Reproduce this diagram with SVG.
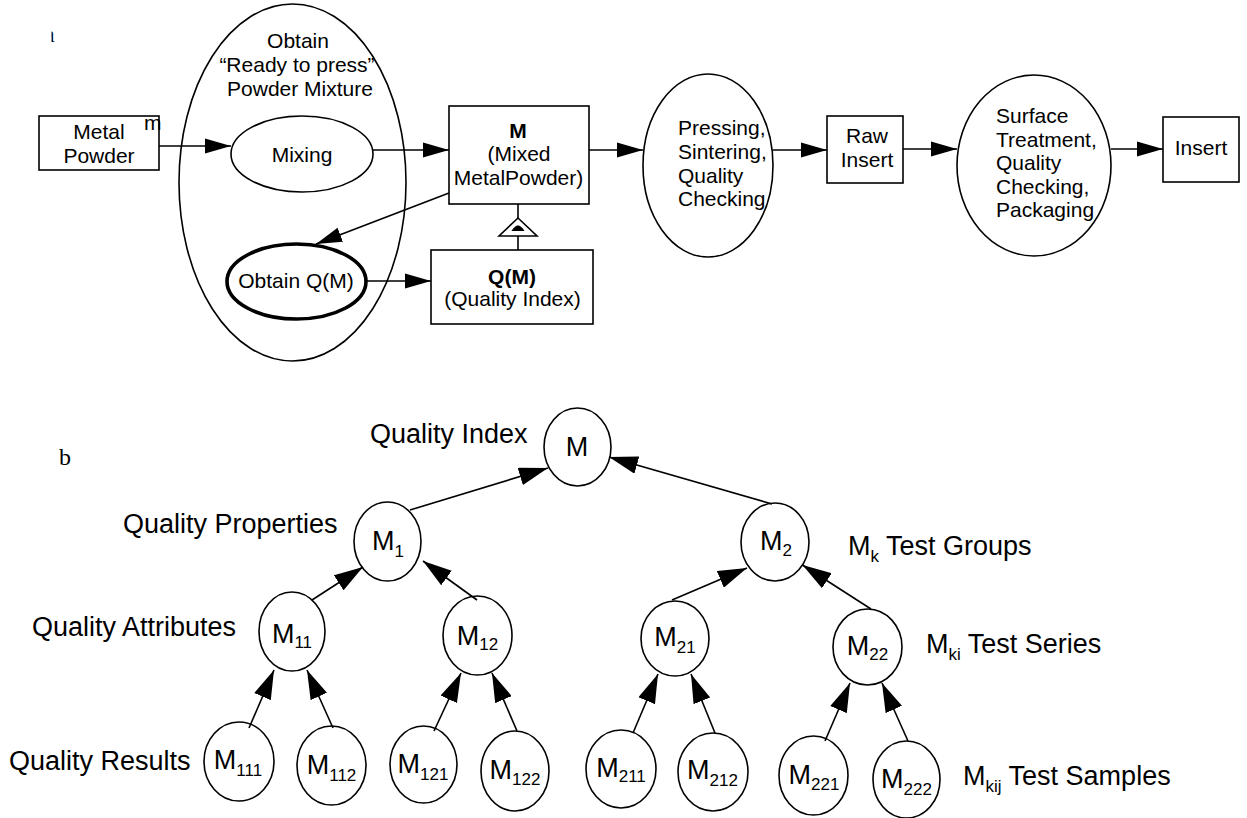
<svg xmlns="http://www.w3.org/2000/svg" width="1247" height="818" viewBox="0 0 1247 818">
  <style>
    .sh { fill: #fff; stroke: #000; stroke-width: 1.6; }
    .thick { fill: #fff; stroke: #000; stroke-width: 3.6; }
    .con { fill: none; stroke: #000; stroke-width: 1.6; }
    .ta { font-family: "Liberation Sans", Arial, sans-serif; font-size: 21px; fill: #000; }
    .tb { font-family: "Liberation Sans", Arial, sans-serif; font-size: 27px; fill: #000; }
    .sub { font-size: 17px; }
    .mid { text-anchor: middle; }
    .bold { font-weight: bold; }
    .lbl { font-family: "Liberation Serif", "Times New Roman", serif; font-size: 24px; fill: #000; }
  </style>
  <defs>
    <marker id="arrA" markerUnits="userSpaceOnUse" markerWidth="26" markerHeight="16" refX="26" refY="8" orient="auto">
      <path d="M0,0.5 L26,8 L0,15.5 Z" fill="#000"/>
    </marker>
    <marker id="arrB" markerUnits="userSpaceOnUse" markerWidth="29" markerHeight="18" refX="29" refY="9" orient="auto">
      <path d="M0,0 L29,9 L0,18 Z" fill="#000"/>
    </marker>
    <clipPath id="cutA"><rect x="51.5" y="20" width="3.5" height="30"/></clipPath>
  </defs>
  <rect width="1247" height="818" fill="#fff"/>

  <!-- panel labels -->
  <text class="lbl" x="44" y="42" clip-path="url(#cutA)">a</text>
  <text class="lbl" x="59" y="465">b</text>

  <!-- ===== panel a: production flow ===== -->
  <g id="obtain-mixture">
    <ellipse class="sh" cx="292.5" cy="182.5" rx="113.5" ry="178.5"/>
    <text class="ta mid" x="298" y="48">Obtain</text>
    <text class="ta mid" x="297" y="72">“Ready to press”</text>
    <text class="ta mid" x="300" y="96">Powder Mixture</text>
  </g>
  <g id="metal-powder">
    <rect class="sh" x="39" y="116" width="120" height="54"/>
    <text class="ta mid" x="99" y="139">Metal</text>
    <text class="ta mid" x="99" y="163">Powder</text>
    <text class="ta" x="144" y="130" font-size="14">m</text>
  </g>
  <g id="mixing">
    <ellipse class="sh" cx="302" cy="154" rx="71" ry="38"/>
    <text class="ta mid" x="302" y="162">Mixing</text>
  </g>
  <g id="obtain-qm">
    <ellipse class="thick" cx="296.5" cy="281.5" rx="69.5" ry="37.5"/>
    <text class="ta mid" x="296" y="288">Obtain Q(M)</text>
  </g>
  <g id="mixed-powder">
    <rect class="sh" x="449" y="106" width="140" height="98"/>
    <text class="ta mid bold" x="518" y="138">M</text>
    <text class="ta mid" x="519" y="161">(Mixed</text>
    <text class="ta mid" x="518.5" y="185">MetalPowder)</text>
  </g>
  <g id="quality-index">
    <rect class="sh" x="431" y="250" width="162" height="74"/>
    <text class="ta mid bold" x="512" y="284">Q(M)</text>
    <text class="ta mid" x="512.5" y="306">(Quality Index)</text>
  </g>
  <g id="pressing">
    <ellipse class="sh" cx="708" cy="165.5" rx="65" ry="91.5"/>
    <text class="ta" x="678" y="135">Pressing,</text>
    <text class="ta" x="678" y="159">Sintering,</text>
    <text class="ta" x="678" y="183">Quality</text>
    <text class="ta" x="678" y="206">Checking</text>
  </g>
  <g id="raw-insert">
    <rect class="sh" x="827" y="116" width="76" height="67"/>
    <text class="ta mid" x="867" y="143">Raw</text>
    <text class="ta mid" x="867" y="167">Insert</text>
  </g>
  <g id="surface">
    <ellipse class="sh" cx="1034" cy="165.5" rx="77" ry="90.5"/>
    <text class="ta" x="996" y="123">Surface</text>
    <text class="ta" x="996" y="147">Treatment,</text>
    <text class="ta" x="996" y="170">Quality</text>
    <text class="ta" x="996" y="194">Checking,</text>
    <text class="ta" x="996" y="217">Packaging</text>
  </g>
  <g id="insert">
    <rect class="sh" x="1163" y="117" width="76" height="65"/>
    <text class="ta mid" x="1201" y="155">Insert</text>
  </g>

  <!-- ===== panel b: quality index tree ===== -->
  <g id="n-M">
    <ellipse class="sh" cx="577.5" cy="447" rx="33.5" ry="39"/>
    <text class="tb mid" x="577" y="456">M</text>
  </g>
  <g id="n-M1">
    <ellipse class="sh" cx="387.5" cy="541.5" rx="33.5" ry="39.5"/>
    <text class="tb mid" x="388" y="550">M<tspan class="sub" dy="7">1</tspan></text>
  </g>
  <g id="n-M2">
    <ellipse class="sh" cx="775" cy="542" rx="34" ry="39"/>
    <text class="tb mid" x="776" y="550">M<tspan class="sub" dy="6">2</tspan></text>
  </g>
  <g id="n-M11">
    <ellipse class="sh" cx="292" cy="631.5" rx="33" ry="39.5"/>
    <text class="tb mid" x="292" y="643">M<tspan class="sub" dy="5">11</tspan></text>
  </g>
  <g id="n-M12">
    <ellipse class="sh" cx="477.5" cy="635.5" rx="34.5" ry="39.5"/>
    <text class="tb mid" x="477.5" y="645">M<tspan class="sub" dy="5">12</tspan></text>
  </g>
  <g id="n-M21">
    <ellipse class="sh" cx="675" cy="638.5" rx="34" ry="37.5"/>
    <text class="tb mid" x="675" y="646">M<tspan class="sub" dy="7">21</tspan></text>
  </g>
  <g id="n-M22">
    <ellipse class="sh" cx="867.5" cy="647" rx="34.5" ry="38"/>
    <text class="tb mid" x="867.5" y="655">M<tspan class="sub" dy="5">22</tspan></text>
  </g>
  <g id="n-M111">
    <ellipse class="sh" cx="239" cy="761.5" rx="35" ry="39.5"/>
    <text class="tb mid" x="238" y="769">M<tspan class="sub" dy="7">111</tspan></text>
  </g>
  <g id="n-M112">
    <ellipse class="sh" cx="331.5" cy="765.5" rx="34.5" ry="39.5"/>
    <text class="tb mid" x="331.5" y="774">M<tspan class="sub" dy="7">112</tspan></text>
  </g>
  <g id="n-M121">
    <ellipse class="sh" cx="423.5" cy="764.5" rx="33.5" ry="38.5"/>
    <text class="tb mid" x="423" y="773">M<tspan class="sub" dy="7">121</tspan></text>
  </g>
  <g id="n-M122">
    <ellipse class="sh" cx="515" cy="771" rx="34" ry="40"/>
    <text class="tb mid" x="515" y="779">M<tspan class="sub" dy="6">122</tspan></text>
  </g>
  <g id="n-M211">
    <ellipse class="sh" cx="621" cy="769" rx="35" ry="39"/>
    <text class="tb mid" x="621" y="777">M<tspan class="sub" dy="5">211</tspan></text>
  </g>
  <g id="n-M212">
    <ellipse class="sh" cx="713" cy="772" rx="35" ry="39"/>
    <text class="tb mid" x="712.5" y="779">M<tspan class="sub" dy="7">212</tspan></text>
  </g>
  <g id="n-M221">
    <ellipse class="sh" cx="813.5" cy="775.5" rx="34.5" ry="39.5"/>
    <text class="tb mid" x="814" y="784">M<tspan class="sub" dy="6">221</tspan></text>
  </g>
  <g id="n-M222">
    <ellipse class="sh" cx="906.5" cy="779.5" rx="33.5" ry="38.5"/>
    <text class="tb mid" x="906.5" y="788">M<tspan class="sub" dy="7">222</tspan></text>
  </g>

  <!-- level captions -->
  <g id="captions">
    <text class="tb" x="370" y="443">Quality Index</text>
    <text class="tb" x="123" y="533">Quality Properties</text>
    <text class="tb" x="32" y="636">Quality Attributes</text>
    <text class="tb" x="9" y="770">Quality Results</text>
    <text class="tb" x="848" y="555">M<tspan class="sub" dy="7">k</tspan><tspan dy="-7"> Test Groups</tspan></text>
    <text class="tb" x="926" y="653">M<tspan class="sub" dy="7">ki</tspan><tspan dy="-7"> Test Series</tspan></text>
    <text class="tb" x="963" y="785">M<tspan class="sub" dy="7">kij</tspan><tspan dy="-7"> Test Samples</tspan></text>
  </g>

  <!-- ===== connectors ===== -->
  <g id="connectors">
    <!-- panel a -->
    <line class="con" x1="159" y1="146" x2="231" y2="146" marker-end="url(#arrA)"/>
    <line class="con" x1="373" y1="150" x2="449" y2="150" marker-end="url(#arrA)"/>
    <line class="con" x1="449" y1="193" x2="316" y2="244" marker-end="url(#arrA)"/>
    <line class="con" x1="366" y1="281" x2="431" y2="281" marker-end="url(#arrA)"/>
    <line class="con" x1="589" y1="150" x2="643" y2="150" marker-end="url(#arrA)"/>
    <line class="con" x1="773" y1="150" x2="827" y2="150" marker-end="url(#arrA)"/>
    <line class="con" x1="903" y1="149" x2="957" y2="149" marker-end="url(#arrA)"/>
    <line class="con" x1="1111" y1="149" x2="1163" y2="149" marker-end="url(#arrA)"/>
    <!-- aggregation link between M and Q(M) -->
    <line class="con" x1="518" y1="204" x2="518" y2="218"/>
    <line class="con" x1="518" y1="236" x2="518" y2="250"/>
    <path class="sh" d="M518,218 L499,236 L537,236 Z"/>
    <path d="M511.5,231 Q518,220 524.5,231 Z" fill="#000"/>

    <!-- panel b -->
    <line class="con" x1="410" y1="510" x2="548" y2="468" marker-end="url(#arrB)"/>
    <line class="con" x1="772" y1="504" x2="609" y2="457" marker-end="url(#arrB)"/>
    <line class="con" x1="312" y1="600" x2="363" y2="567" marker-end="url(#arrB)"/>
    <line class="con" x1="477" y1="600" x2="423" y2="561" marker-end="url(#arrB)"/>
    <line class="con" x1="672" y1="600" x2="747" y2="568" marker-end="url(#arrB)"/>
    <line class="con" x1="871" y1="609" x2="802.5" y2="565" marker-end="url(#arrB)"/>
    <line class="con" x1="249" y1="728" x2="274" y2="670" marker-end="url(#arrB)"/>
    <line class="con" x1="333" y1="728" x2="307" y2="670" marker-end="url(#arrB)"/>
    <line class="con" x1="434" y1="731" x2="461" y2="673" marker-end="url(#arrB)"/>
    <line class="con" x1="517" y1="731" x2="492" y2="673" marker-end="url(#arrB)"/>
    <line class="con" x1="633" y1="733" x2="658" y2="674" marker-end="url(#arrB)"/>
    <line class="con" x1="715" y1="733" x2="691" y2="674" marker-end="url(#arrB)"/>
    <line class="con" x1="825" y1="741" x2="850" y2="683" marker-end="url(#arrB)"/>
    <line class="con" x1="908" y1="741" x2="882" y2="683" marker-end="url(#arrB)"/>
  </g>
</svg>
